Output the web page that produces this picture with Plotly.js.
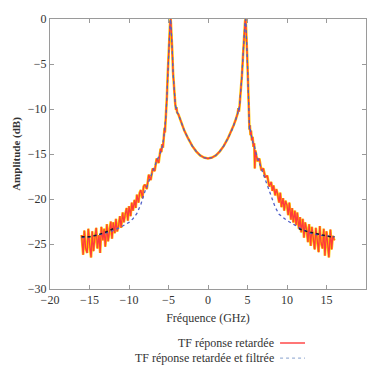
<!DOCTYPE html>
<html>
<head>
<meta charset="utf-8">
<script src="https://cdn.plot.ly/plotly-3.0.1.min.js"></script>
<style>html,body{margin:0;padding:0;background:#fff;}#chart{width:371px;height:369px;}</style>
</head>
<body>
<div id="chart"></div>
<script>
// ---- Data ----
var freqRetard = [
  -16.00,-15.80,-15.65,-15.50,-15.30,-15.15,-15.00,-14.80,-14.65,-14.50,-14.30,-14.15,-14.00,-13.80,-13.65,-13.50,-13.30,-13.15,-13.00,-12.80,-12.65,-12.50,-12.30,-12.15,-12.00,-11.80,-11.65,-11.50,-11.30,-11.15,
  -11.00,-10.80,-10.65,-10.50,-10.30,-10.15,-10.00,-9.80,-9.65,-9.50,-9.30,-9.15,-9.00,-8.80,-8.65,-8.50,-8.30,-8.15,-8.00,-7.75,-7.50,-7.25,-7.00,-6.75,-6.50,-6.25,-6.00,
  -5.90,-5.80,-5.70,-5.60,-5.50,-5.45,-5.40,-5.30,-5.20,-5.10,-5.00,-4.90,-4.80,-4.72,-4.62,-4.52,-4.42,-4.30,-4.15,-4.05,-4.00,-3.90,
  -3.75,-3.50,-3.25,-3.00,-2.50,-2.00,-1.50,-1.00,-0.50,0.00,0.50,1.00,1.50,2.00,2.50,3.00,3.25,3.50,
  3.75,3.85,3.92,4.00,4.15,4.30,4.45,4.58,4.70,4.77,4.86,4.96,5.06,5.14,5.20,5.25,5.30,5.38,5.45,5.55,5.65,5.75,5.85,5.92,6.00,
  6.25,6.50,6.75,7.00,7.25,7.50,7.75,8.00,8.15,8.30,8.50,8.65,8.80,9.00,9.15,9.30,9.50,9.65,9.80,10.00,10.15,10.30,10.50,10.65,10.80,11.00,
  11.15,11.30,11.50,11.65,11.80,12.00,12.15,12.30,12.50,12.65,12.80,13.00,13.15,13.30,13.50,13.65,13.80,14.00,14.15,14.30,14.50,14.65,14.80,15.00,15.15,15.30,15.50,15.65,15.80,16.00
];
var ampRetard = [
  -24.0,-26.2,-23.5,-25.4,-26.0,-23.3,-24.9,-26.5,-23.6,-25.8,-24.2,-23.2,-25.5,-24.0,-26.0,-23.1,-24.6,-23.3,-25.3,-22.8,-24.7,-23.9,-22.5,-24.4,-22.6,-23.8,-22.2,-23.6,-22.9,-21.9,
  -23.2,-21.5,-22.6,-21.8,-21.0,-22.4,-20.8,-21.9,-20.4,-21.3,-20.1,-21.0,-19.5,-20.4,-19.3,-19.0,-19.9,-18.6,-18.4,-18.9,-17.3,-17.9,-16.6,-16.9,-15.5,-16.0,-14.4,
  -14.8,-13.9,-14.3,-12.8,-12.1,-12.6,-11.9,-10.5,-8.6,-6.2,-3.8,-1.8,-0.4,0.0,-1.4,-3.6,-6.0,-8.0,-9.4,-10.1,-9.8,-10.4,
  -10.6,-11.2,-11.8,-12.4,-13.3,-14.1,-14.7,-15.15,-15.4,-15.5,-15.4,-15.15,-14.7,-14.1,-13.3,-12.4,-11.8,-11.2,
  -10.5,-9.9,-10.3,-9.6,-8.2,-6.2,-3.8,-1.6,-0.2,0.0,-1.5,-4.0,-6.8,-9.0,-10.8,-12.3,-11.8,-12.9,-12.4,-13.5,-13.1,-14.2,-13.8,-16.6,-14.6,
  -15.8,-15.5,-16.8,-16.6,-17.6,-17.4,-18.6,-18.1,-19.1,-18.5,-19.6,-18.9,-19.4,-20.4,-19.3,-20.9,-19.9,-21.3,-20.2,-20.7,-21.8,-20.4,-22.3,-21.0,-22.6,-21.3,
  -22.9,-21.5,-23.3,-22.0,-23.7,-22.2,-24.3,-22.6,-23.5,-24.8,-22.8,-25.2,-23.1,-24.0,-25.6,-23.2,-24.4,-25.9,-23.0,-24.8,-25.5,-23.3,-26.3,-23.6,-25.0,-26.5,-23.4,-25.6,-24.1,-24.6
];
var freqFiltre = [
  -16,-15,-14,-13,-12,-11,-10,-9.5,-9,-8.5,-8,-7.5,-7,-6.5,-6,-5.8,-5.6,-5.5,-5.4,-5.3,-5.2,-5.1,-5.0,-4.9,-4.8,-4.72,
  -4.62,-4.52,-4.42,-4.30,-4.15,-4.05,-4.00,-3.90,-3.75,-3.50,-3.00,-2.50,-2.00,-1.50,-1.00,-0.50,0.00,0.50,1.00,1.50,2.00,2.50,3.00,3.50,
  3.75,3.85,3.92,4.00,4.15,4.30,4.45,4.58,4.70,4.77,4.86,4.96,5.06,5.14,5.20,5.25,5.30,5.40,5.55,5.70,5.90,
  6.0,6.5,7.0,7.5,8.0,8.5,9.0,9.5,10,11,12,13,14,15,16
];
var ampFiltre = [
  -24.3,-24.2,-24.0,-23.8,-23.5,-23.1,-22.6,-22.2,-21.6,-20.6,-19.2,-18.0,-16.8,-15.8,-14.8,-14.2,-13.2,-12.3,-11.9,-10.5,-8.6,-6.2,-3.8,-1.8,-0.4,0.0,
  -1.4,-3.6,-6.0,-8.0,-9.4,-10.1,-9.8,-10.4,-10.6,-11.2,-12.4,-13.3,-14.1,-14.7,-15.15,-15.4,-15.5,-15.4,-15.15,-14.7,-14.1,-13.3,-12.4,-11.2,
  -10.5,-9.9,-10.3,-9.6,-8.2,-6.2,-3.8,-1.6,-0.2,0.0,-1.5,-4.0,-6.8,-9.0,-10.8,-12.3,-11.8,-12.6,-13.3,-13.8,-14.2,
  -14.7,-16.0,-17.2,-18.4,-19.6,-20.9,-21.7,-22.1,-22.4,-22.9,-23.4,-23.8,-24.0,-24.1,-24.2
];
var freqQueue = [-16,-15,-14,-13,-12, null, 11.5,12.5,13.5,14.5,15.5,16];
var ampQueue  = [-24.2,-24.2,-24.0,-23.7,-23.3, null, -23.3,-23.6,-23.8,-24.0,-24.2,-24.2];

var xTicks = [-20,-15,-10,-5,0,5,10,15,20];
var yTicks = [0,-5,-10,-15,-20,-25,-30];
var nomRetard = 'TF réponse retardée';
var nomFiltre = 'TF réponse retardée et filtrée';

var serif = '"Liberation Serif", "DejaVu Serif", "Times New Roman", serif';

// ---- Traces ----
var traces = [
  {x:freqRetard, y:ampRetard, mode:'lines', line:{color:'#ffc800', width:2.6}, hoverinfo:'skip', showlegend:false},
  {x:freqRetard, y:ampRetard, mode:'lines', line:{color:'#ff3b3b', width:1.3}, name:nomRetard},
  {x:freqFiltre, y:ampFiltre, mode:'lines', line:{color:'#5060c8', width:1.3, dash:'dot'}, name:nomFiltre},
  {x:freqQueue, y:ampQueue, mode:'lines', connectgaps:false, line:{color:'#1a1a2a', width:1.5, dash:'dot'}, showlegend:false}
];

var axisCommon = {
  showline:true, linecolor:'#9a9a9a', linewidth:1, mirror:'ticks',
  ticks:'inside', ticklen:4, tickcolor:'#9a9a9a', showgrid:false, zeroline:false,
  tickfont:{family:serif, size:12, color:'#333'}
};

var layout = {
  width:371, height:369,
  margin:{l:50, r:5, t:19, b:80},
  paper_bgcolor:'#ffffff', plot_bgcolor:'#ffffff',
  showlegend:false,
  font:{family:serif, size:12, color:'#333'},
  xaxis:Object.assign({}, axisCommon, {
    range:[-20,20], tickvals:xTicks, ticktext:xTicks.map(function(v){return v<0?'\u2212'+(-v):String(v);}),
    title:{text:'Fréquence (GHz)', standoff:7, font:{family:serif, size:12, color:'#333'}}
  }),
  yaxis:Object.assign({}, axisCommon, {
    range:[-30,0], tickvals:yTicks, ticktext:yTicks.map(function(v){return v<0?'\u2212'+(-v):String(v);}),
    title:{text:'<b>Amplitude (dB)</b>', standoff:4, font:{family:serif, size:11, color:'#333'}}
  }),
  annotations:[
    {xref:'paper', yref:'paper', x:0.715, y:-0.2, xanchor:'right', yanchor:'middle', showarrow:false, text:nomRetard, font:{family:serif, size:12, color:'#333'}},
    {xref:'paper', yref:'paper', x:0.715, y:-0.256, xanchor:'right', yanchor:'middle', showarrow:false, text:nomFiltre, font:{family:serif, size:12, color:'#333'}}
  ],
  shapes:[
    {type:'line', xref:'paper', yref:'paper', x0:0.728, x1:0.807, y0:-0.2, y1:-0.2, line:{color:'#ff3b3b', width:1.4}},
    {type:'line', xref:'paper', yref:'paper', x0:0.728, x1:0.807, y0:-0.256, y1:-0.256, line:{color:'#9fb4d8', width:1.4, dash:'dot'}}
  ]
};

Plotly.newPlot('chart', traces, layout, {displayModeBar:false, staticPlot:true});
</script>
</body>
</html>
